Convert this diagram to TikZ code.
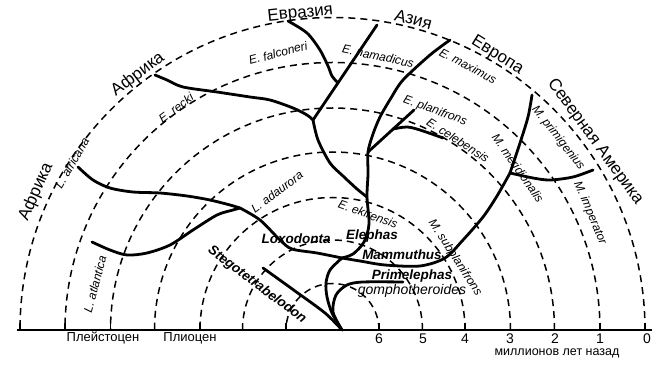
\documentclass[tikz,border=0pt]{standalone}
\usepackage{fontspec}
\setmainfont{Liberation Sans}
\begin{document}
\begin{tikzpicture}
[x=1pt,y=1pt,
  arcdecorate/.style={dash pattern=on 7pt off 5pt,line width=1.5pt},
  axisdecorate/.style={-,line width=1.3pt},
  branchdecorate/.style={-,line width=2.8pt,line cap=round,line join=round},
  regiondecorate/.style={font=\fontsize{17}{20}\selectfont,inner sep=0pt},
  speciesdecorate/.style={font=\fontsize{12}{14}\selectfont\itshape,inner sep=0pt},
  genusdecorate/.style={font=\fontsize{13.5}{16}\selectfont\bfseries\itshape,inner sep=0pt},
  scaledecorate/.style={font=\fontsize{14}{16}\selectfont,inner sep=0pt}]
\useasboundingbox (0,0) rectangle (669,364);
%%% time scale
% half circles
\coordinate (o) at (332.5,34);
\foreach \r in {46.5,90,132.5,178,222,267.5,312.5}
{
  \draw[arcdecorate] (o) ++(\r,0) arc[start angle=0,end angle=180,radius=\r pt];
  \draw[axisdecorate] (o) ++(\r,0) -- ++(0,7);
  \draw[axisdecorate] (o) ++(-\r,0) -- ++(0,7);
}
% axis
\coordinate (axl) at (17,34);
\coordinate (axr) at (652,34);
\draw[axisdecorate] (axl) -- (axr);
\foreach \x/\n in {379/6,423/5,465/4,510/3,555/2,600/1,647/0}
  \node (m\n) at (\x,25) [scaledecorate] {\n};
\node (pleist) at (103,26) [font=\fontsize{13}{15}\selectfont] {Плейстоцен};
\node (plioc) at (190,26) [font=\fontsize{13}{15}\selectfont] {Плиоцен};
\node (ago) at (557,11) [font=\fontsize{12.5}{15}\selectfont] {миллионов лет назад};
%
%%% regions
\node (afrika1) at ([shift={(155:327)}]o) [regiondecorate,rotate=66] {Африка};
\node (afrika2) at ([shift={(127.3:321)}]o) [regiondecorate,rotate=37] {Африка};
\node (evrazia) at ([shift={(95.8:318)}]o) [regiondecorate,rotate=6] {Евразия};
\node (azia) at ([shift={(75.4:321)}]o) [regiondecorate,rotate=-15] {Азия};
\node (evropa) at ([shift={(59:320)}]o) [regiondecorate,rotate=-32] {Европа};
\node (namerika) at ([shift={(35.6:323)}]o) [regiondecorate,rotate=-54] {Северная Америка};
%
%%% tree
% junctions and tips
\coordinate (root) at (342,34);
\coordinate (steg) at (263,96);
\coordinate (prim) at (403,82);
\coordinate (j1) at (342,106);
\coordinate (lox) at (240,156);
\coordinate (afr) at (78,197);
\coordinate (atl) at (92,122);
\coordinate (ek) at (367,167);
\coordinate (pl) at (368,212);
\coordinate (max) at (450,324);
\coordinate (plan) at (414,254);
\coordinate (celj) at (393,235);
\coordinate (cel) at (443,226);
\coordinate (rec) at (313,244);
\coordinate (reck) at (155,289);
\coordinate (fal) at (338,281);
\coordinate (falc) at (288,343);
\coordinate (nam) at (377,339);
\coordinate (mer) at (510,191);
\coordinate (primi) at (532,269);
\coordinate (imp) at (593,194);
% branches
\draw[branchdecorate] plot[smooth] coordinates {(root) (325,51) (295,73) (steg)};
\draw[branchdecorate] plot[smooth] coordinates {(root) (332,51) (327,67) (326,81) (330,94) (j1)};
\draw[branchdecorate] plot[smooth] coordinates {(root) (333,52) (336,69) (347,79) (363,82) (prim)};
\draw[branchdecorate] plot[smooth] coordinates {(j1) (317,111) (292,115) (280,124) (260,144) (lox)};
\draw[branchdecorate] plot[smooth] coordinates {(lox) (230,159) (210,164) (187,168) (160,171) (133,172) (110,176) (93,184) (afr)};
\draw[branchdecorate] plot[smooth] coordinates {(lox) (233,154) (217,149) (193,134) (170,119) (147,111) (127,109) (110,114) (atl)};
\draw[branchdecorate] plot[smooth] coordinates {(j1) (353,110) (364,122) (369,140) (ek) (368,190) (pl) (373,230) (380,247) (391,266) (403,284) (430,309) (max)};
\draw[branchdecorate] (pl) -- (plan);
\draw[branchdecorate] plot[smooth] coordinates {(celj) (407,237) (420,234) (cel)};
\draw[branchdecorate] plot[smooth] coordinates {(ek) (357,175) (343,188) (330,201) (318,224) (rec)};
\draw[branchdecorate] (rec) -- (nam);
\draw[branchdecorate] plot[smooth] coordinates {(fal) (332,288) (328,298) (320,314) (307,331) (falc)};
\draw[branchdecorate] plot[smooth] coordinates {(rec) (307,249) (293,256) (270,264) (250,267) (217,272) (183,277) (167,284) (reck)};
\draw[branchdecorate] plot[smooth] coordinates {(j1) (360,103) (385,99) (420,98) (445,106) (463,124) (483,147) (497,168) (mer)};
\draw[branchdecorate] plot[smooth] coordinates {(mer) (520,221) (528,247) (primi)};
\draw[branchdecorate] plot[smooth] coordinates {(mer) (533,186) (550,184) (573,187) (imp)};
%
%%% labels
% species
\node (africana) at (72,201) [speciesdecorate,rotate=60] {L. africana};
\node (atlantica) at (95,80) [speciesdecorate,rotate=75] {L. atlantica};
\node (adaurora) at (277,172) [speciesdecorate,rotate=37] {L. adaurora};
\node (recki) at (176,256) [speciesdecorate,rotate=37] {E. recki};
\node (falconeri) at (278,311) [speciesdecorate,rotate=15] {E. falconeri};
\node (namadicus) at (378,308) [speciesdecorate,rotate=-12] {E. namadicus};
\node (maximus) at (468,298) [speciesdecorate,rotate=-28] {E. maximus};
\node (planifrons) at (435,253) [speciesdecorate,rotate=-20] {E. planifrons};
\node (celebensis) at (458,224) [speciesdecorate,rotate=-33] {E. celebensis};
\node (ekirensis) at (368,150) [speciesdecorate,rotate=-20] {E. ekirensis};
\node (meridionalis) at (518,196) [speciesdecorate,rotate=-55] {M. meridionalis};
\node (primigenius) at (558,226) [speciesdecorate,rotate=-52] {M. primigenius};
\node (imperator) at (590,151) [speciesdecorate,rotate=-67] {M. imperator};
\node (subplanifrons) at (455,106) [speciesdecorate,rotate=-57] {M. subplanifrons};
% genera
\node (loxodonta) at (296,125) [genusdecorate] {Loxodonta};
\node (elephas) at (372,128) [genusdecorate] {Elephas};
\node (mammuthus) at (402,109) [genusdecorate] {Mammuthus};
\node (primelephas) at (412,88) [genusdecorate] {Primelephas};
\node (gomphotheroides) at (412,73) [font=\fontsize{14}{16}\selectfont\itshape,inner sep=0pt] {gomphotheroides};
\node (stegotetrabelodon) at (257,79) [genusdecorate,rotate=-37] {Stegotetrabelodon};
\end{tikzpicture}
\end{document}
